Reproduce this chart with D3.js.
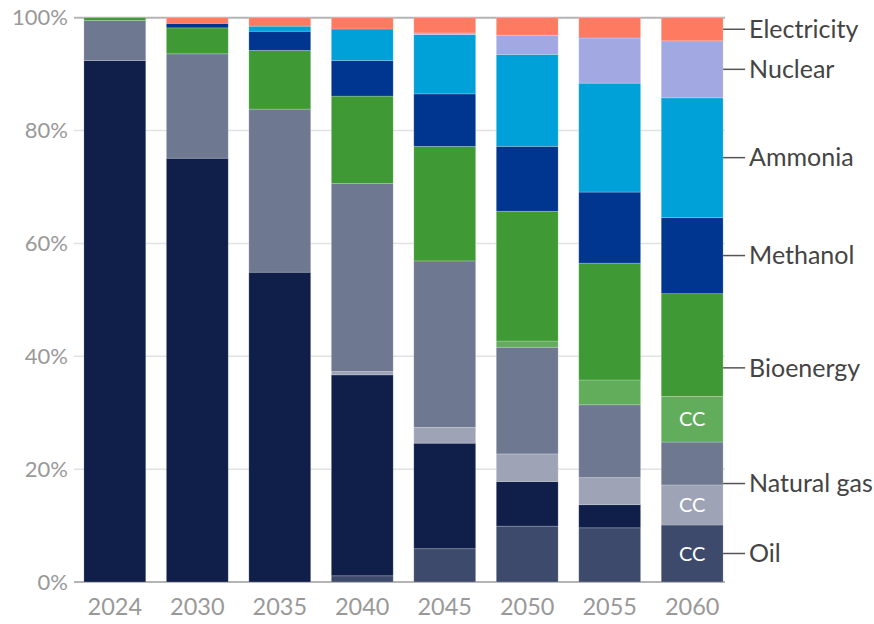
<!DOCTYPE html>
<html>
<head>
<meta charset="utf-8">
<script src="https://cdn.jsdelivr.net/npm/d3@7"></script>
<style>
    body { margin: 0; background: #fff; }
    svg { display: block; font-family: Lato, "Open Sans", sans-serif; }
</style>
</head>
<body>
<svg id="chart" width="874" height="624"></svg>
<script>
/* Share of energy by source, percent of total, per year */
let years = ['2024', '2030', '2035', '2040', '2045', '2050', '2055', '2060'];
let oilCC       = [0, 0, 0, 1.1, 5.9, 9.9, 9.6, 10.1];
let oil         = [92.4, 75.1, 54.9, 35.6, 18.7, 7.9, 4.1, 0];
let gasCC       = [0, 0, 0, 0.6, 2.8, 4.9, 4.8, 7.1];
let gas         = [7.1, 18.5, 28.9, 33.3, 29.5, 18.9, 12.9, 7.6];
let bioCC       = [0, 0, 0, 0, 0, 1.1, 4.4, 8.1];
let bio         = [0.5, 4.6, 10.4, 15.5, 20.3, 23.0, 20.7, 18.2];
let methanol    = [0, 0.8, 3.4, 6.3, 9.3, 11.5, 12.6, 13.5];
let ammonia     = [0, 0, 0.9, 5.6, 10.5, 16.3, 19.3, 21.2];
let nuclear     = [0, 0, 0, 0, 0.3, 3.4, 8.0, 10.1];
let electricity = [0, 1.0, 1.5, 2.0, 2.7, 3.1, 3.6, 4.1];
let yTicks = [0, 20, 40, 60, 80, 100];

/* Stack order, bottom to top */
let series = [
    {key: 'oilCC', values: oilCC, color: '#3d4a6b', cc: true},
    {key: 'oil', values: oil, color: '#0f1f4a'},
    {key: 'gasCC', values: gasCC, color: '#9ea4b6', cc: true},
    {key: 'gas', values: gas, color: '#6e7891'},
    {key: 'bioCC', values: bioCC, color: '#62ad5c', cc: true},
    {key: 'bio', values: bio, color: '#3f9a35'},
    {key: 'methanol', values: methanol, color: '#00368f'},
    {key: 'ammonia', values: ammonia, color: '#00a1d9'},
    {key: 'nuclear', values: nuclear, color: '#a2a8e2'},
    {key: 'electricity', values: electricity, color: '#fe7b62'}
];

/* Right-hand labels, each covering one or more series */
let labels = [
    {name: 'Electricity', keys: ['electricity']},
    {name: 'Nuclear', keys: ['nuclear']},
    {name: 'Ammonia', keys: ['ammonia']},
    {name: 'Methanol', keys: ['methanol']},
    {name: 'Bioenergy', keys: ['bioCC', 'bio']},
    {name: 'Natural gas', keys: ['gasCC', 'gas']},
    {name: 'Oil', keys: ['oilCC', 'oil']}
];

let table = years.map((y, i) => {
    let row = {year: y};
    series.forEach(s => row[s.key] = s.values[i]);
    return row;
});

let svg = d3.select('#chart');

let x = d3.scaleBand()
    .domain(years)
    .range([74, 733])
    .paddingInner(0.25)
    .paddingOuter(0.12);

let y = d3.scaleLinear()
    .domain([0, 100])
    .range([582, 17.7]);

let gridRight = 725;

/* Gridlines */
svg.append('g')
    .selectAll('line')
    .data(yTicks)
    .join('line')
    .attr('x1', 74)
    .attr('x2', gridRight)
    .attr('y1', d => y(d))
    .attr('y2', d => y(d))
    .attr('stroke', d => (d === 0 || d === 100) ? '#b4b4b4' : '#e2e2e2')
    .attr('stroke-width', d => (d === 0 || d === 100) ? 2 : 1.5);

/* Y tick labels */
svg.append('g')
    .selectAll('text')
    .data(yTicks)
    .join('text')
    .attr('x', 68)
    .attr('y', d => y(d))
    .attr('dy', '0.35em')
    .attr('text-anchor', 'end')
    .attr('fill', '#999')
    .attr('font-size', 22)
    .text(d => d + '%');

/* X tick labels */
svg.append('g')
    .selectAll('text')
    .data(years)
    .join('text')
    .attr('x', d => x(d) + x.bandwidth() / 2)
    .attr('y', 607)
    .attr('dy', '0.35em')
    .attr('text-anchor', 'middle')
    .attr('fill', '#999')
    .attr('font-size', 23.5)
    .text(d => d);

let stack = d3.stack().keys(series.map(s => s.key));
let stacked = stack(table);

/* Bars */
svg.append('g')
    .selectAll('g')
    .data(stacked)
    .join('g')
    .attr('fill', (d, i) => series[i].color)
    .selectAll('rect')
    .data(d => d.filter(p => p[1] - p[0] > 0))
    .join('rect')
    .attr('x', d => x(d.data.year))
    .attr('width', x.bandwidth())
    .attr('y', d => y(d[1]))
    .attr('height', d => y(d[0]) - y(d[1]))
    .attr('stroke', '#fff')
    .attr('stroke-opacity', 0.25)
    .attr('stroke-width', 0.8);

/* "CC" tags on the last bar */
let lastYear = years[years.length - 1];
let ccTags = stacked
    .filter((d, i) => series[i].cc)
    .map(d => d[d.length - 1])
    .filter(p => y(p[0]) - y(p[1]) > 20);

svg.append('g')
    .selectAll('text')
    .data(ccTags)
    .join('text')
    .attr('x', x(lastYear) + x.bandwidth() / 2)
    .attr('y', d => (y(d[0]) + y(d[1])) / 2)
    .attr('dy', '0.35em')
    .attr('text-anchor', 'middle')
    .attr('fill', '#fff')
    .attr('font-size', 20)
    .text('CC');

/* Series labels, placed at the middle of their group in the last bar */
let lastIndex = years.length - 1;
let byKey = {};
stacked.forEach(s => byKey[s.key] = s[lastIndex]);
labels.forEach(l => {
    let lo = d3.min(l.keys, k => byKey[k][0]);
    let hi = d3.max(l.keys, k => byKey[k][1]);
    l.pos = y((lo + hi) / 2);
});

let right = x(lastYear) + x.bandwidth();
let lab = svg.append('g')
    .selectAll('g')
    .data(labels)
    .join('g')
    .attr('transform', d => `translate(0,${d.pos})`);

lab.append('line')
    .attr('x1', right)
    .attr('x2', right + 22)
    .attr('stroke', '#555')
    .attr('stroke-width', 1.5);

lab.append('text')
    .attr('x', right + 26)
    .attr('dy', '0.35em')
    .attr('fill', '#444')
    .attr('font-size', 25)
    .text(d => d.name);
</script>
</body>
</html>
